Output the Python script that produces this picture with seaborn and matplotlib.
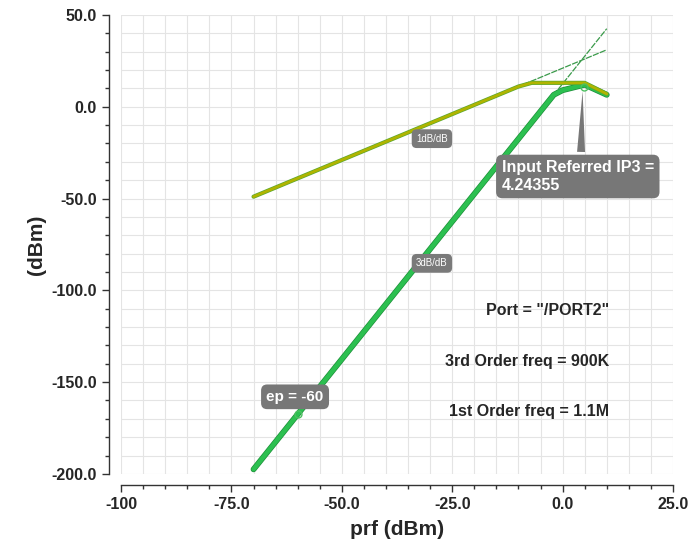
import numpy as np
import pandas as pd
import seaborn as sns
import matplotlib.pyplot as plt
import matplotlib.patheffects as pe
from matplotlib.ticker import MultipleLocator, FixedFormatter, FixedLocator

# 1st order (fundamental) output power
prf_1st = [-70, -65, -60, -55, -50, -45, -40, -35, -30, -25, -20, -15, -10, -7, 0, 5, 10]
out_1st = [-49, -44, -39, -34, -29, -24, -19, -14, -9, -4, 1, 6, 11, 13, 13, 13, 7]

# 3rd order intermod output power
prf_3rd = [-70, -65, -60, -55, -50, -45, -40, -35, -30, -25, -20, -15, -10, -5, -2, 0, 5, 10]
out_3rd = [-197.5, -182.5, -167.5, -152.5, -137.5, -122.5, -107.5, -92.5, -77.5,
           -62.5, -47.5, -32.5, -17.5, -2.5, 6.5, 9, 12, 6.5]

# extrapolation lines (1dB/dB and 3dB/dB)
prf_ext = [-70, 10]
ext_1st = [-49, 31]
ext_3rd = [-197.5, 42.5]

ip3_in = 4.24355
ep = -60

x_ticks = [-100, -75, -50, -25, 0, 25]
x_tick_labels = ['-100', '-75.0', '-50.0', '-25.0', '0.0', '25.0']
y_ticks = [50, 0, -50, -100, -150, -200]
y_tick_labels = ['50.0', '0.0', '-50.0', '-100.0', '-150.0', '-200.0']

sns.set_style('white')
plt.rcParams['font.family'] = ['Liberation Sans', 'DejaVu Sans']

fig = plt.figure(figsize=(6.92, 5.53), dpi=100)
ax = fig.add_axes([0.175, 0.143, 0.7975, 0.83])

d1 = pd.DataFrame({'prf': prf_1st, 'dBm': out_1st})
d3 = pd.DataFrame({'prf': prf_3rd, 'dBm': out_3rd})
de1 = pd.DataFrame({'prf': prf_ext, 'dBm': ext_1st})
de3 = pd.DataFrame({'prf': prf_ext, 'dBm': ext_3rd})

sns.lineplot(data=de1, x='prf', y='dBm', ax=ax, color='#3a9a4a', lw=0.9,
             linestyle=(0, (5, 1)), zorder=3)
sns.lineplot(data=de3, x='prf', y='dBm', ax=ax, color='#3a9a4a', lw=0.9,
             linestyle=(0, (5, 1)), zorder=3)
sns.lineplot(data=d3, x='prf', y='dBm', ax=ax, color='#2cc050', lw=3.2, zorder=4,
             path_effects=[pe.Stroke(linewidth=4.2, foreground='#1e8f3a'), pe.Normal()])
sns.lineplot(data=d1, x='prf', y='dBm', ax=ax, color='#b0b400', lw=2.0, zorder=5,
             path_effects=[pe.Stroke(linewidth=3.0, foreground='#5aa830'), pe.Normal()])

# markers
ax.plot([ep], [3 * ep + 12.5], marker='o', ms=5, mfc='none', mec='#4cc060', mew=1, zorder=6)
ax.plot([ip3_in + 0.5], [11], marker='o', ms=5, mfc='none', mec='#4cc060', mew=1, zorder=6)

ax.set_xlim(-100, 25)
ax.set_ylim(-200, 50)
ax.xaxis.set_major_locator(FixedLocator(x_ticks))
ax.xaxis.set_major_formatter(FixedFormatter(x_tick_labels))
ax.yaxis.set_major_locator(FixedLocator(y_ticks))
ax.yaxis.set_major_formatter(FixedFormatter(y_tick_labels))
ax.xaxis.set_minor_locator(MultipleLocator(5))
ax.yaxis.set_minor_locator(MultipleLocator(10))
ax.grid(True, which='both', color='#e4e4e4', lw=0.8)
ax.set_axisbelow(True)

for s in ['top', 'right']:
    ax.spines[s].set_visible(False)
ax.spines['left'].set_position(('outward', 9))
ax.spines['bottom'].set_position(('outward', 8))
for s in ['left', 'bottom']:
    ax.spines[s].set_color('#333333')
    ax.spines[s].set_linewidth(1.0)
ax.tick_params(which='major', direction='out', length=5, width=1, color='#333333',
               labelsize=11.5)
ax.tick_params(which='minor', direction='out', length=3, width=1, color='#333333')
ax.tick_params(axis='both', which='both', left=True, bottom=True)
for lbl in ax.get_xticklabels() + ax.get_yticklabels():
    lbl.set_fontweight('bold')

ax.set_xlabel('prf (dBm)', fontsize=15, fontweight='bold', labelpad=6)
ax.set_ylabel('(dBm)', fontsize=15, fontweight='bold', labelpad=4)

box = dict(boxstyle='round,pad=0.35,rounding_size=0.4', fc='#777777', ec='none')
small_box = dict(boxstyle='round,pad=0.45,rounding_size=0.5', fc='#7a7a7a', ec='none')

ax.annotate('Input Referred IP3 =\n4.24355', xy=(ip3_in + 0.3, 10), xytext=(-13.8, -38),
            ha='left', va='center', color='white', fontsize=11.5, fontweight='bold',
            linespacing=1.2, bbox=box, zorder=7,
            arrowprops=dict(arrowstyle='wedge,tail_width=0.5,shrink_factor=0.5',
                            fc='#777777', ec='none', relpos=(0.52, 1.0)))
ax.annotate('ep = -60', xy=(ep, 3 * ep + 12.5 + 3), xytext=(-60.6, -158),
            ha='center', va='center', color='white', fontsize=11, fontweight='bold',
            bbox=box, zorder=7,
            arrowprops=dict(arrowstyle='wedge,tail_width=0.4,shrink_factor=0.5',
                            fc='#777777', ec='none', relpos=(0.5, 0.0)))
ax.text(-29.6, -17.4, '1dB/dB', ha='center', va='center', color='white', fontsize=7,
        bbox=small_box, zorder=7)
ax.text(-29.6, -85.3, '3dB/dB', ha='center', va='center', color='white', fontsize=7,
        bbox=small_box, zorder=7)

ax.text(10.6, -111, 'Port = "/PORT2"', ha='right', va='center', fontsize=11.5, fontweight='bold')
ax.text(10.6, -139, '3rd Order freq = 900K', ha='right', va='center', fontsize=11.5, fontweight='bold')
ax.text(10.6, -166, '1st Order freq = 1.1M', ha='right', va='center', fontsize=11.5, fontweight='bold')

fig.savefig('out.png', dpi=100)
